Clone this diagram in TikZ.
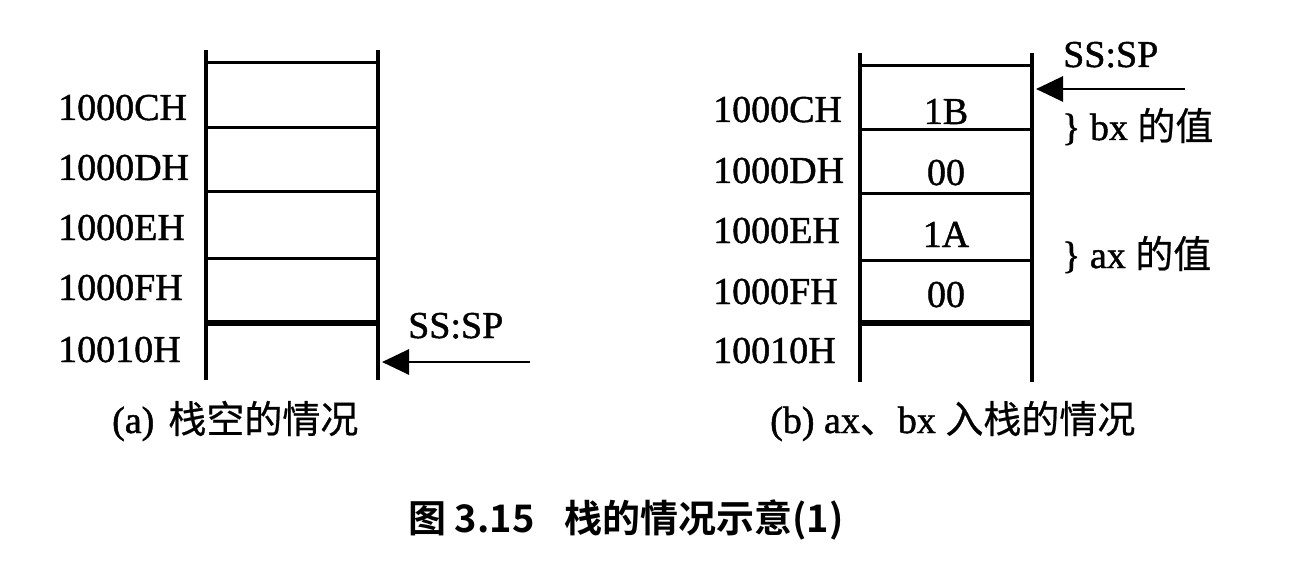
\documentclass[tikz,border=0pt]{standalone}
\usepackage{fontspec}
\setmainfont{Liberation Serif}[FakeBold=1.2]
\newfontfamily\cjk{Noto Sans CJK SC}[FakeBold=0.6]
\newfontfamily\cjkbold{Noto Sans CJK SC Bold}
\usetikzlibrary{arrows.meta}
\begin{document}
\begin{tikzpicture}[x=1pt,y=-1pt,
  txt/.style={inner sep=0pt,font=\fontsize{38}{38}\selectfont},
  addr/.style={txt,anchor=base west},
  val/.style={txt,anchor=base},
  note/.style={txt,anchor=base west},
  wall/.style={line width=3.6pt},
  rowline/.style={line width=3pt},
  topline/.style={line width=6.5pt},
  ptr/.style={line width=2.8pt,-{Triangle[length=27pt,width=25pt]}},
]
\useasboundingbox (0,0) rectangle (1303,564);

% ---------- (a) empty stack ----------
\coordinate (aTL) at (206,50);  \coordinate (aBL) at (206,380);
\coordinate (aTR) at (378,50);  \coordinate (aBR) at (378,380);
\foreach \y in {63,128,192,258}
  \draw[rowline] (206,\y) -- (378,\y);
\draw[topline] (206,323) -- (378,323);
\draw[wall] (aTL) -- (aBL);
\draw[wall] (aTR) -- (aBR);

\node[addr] (aC) at (58,120) {1000CH};
\node[addr] (aD) at (58,180) {1000DH};
\node[addr] (aE) at (58,240) {1000EH};
\node[addr] (aF) at (58,300) {1000FH};
\node[addr] (aG) at (58,362) {10010H};

\node[note] (aSP) at (408,338) {SS:SP};
\coordinate (aTail) at (530,362);
\coordinate (aTip)  at (382,362);
\draw[ptr] (aTail) -- (aTip);

\node[addr] (aCap) at (112,433) {(a)\hspace{14pt}{\cjk 栈空的情况}};

% ---------- (b) after pushing ax, bx ----------
\coordinate (bTL) at (860,53);  \coordinate (bBL) at (860,382);
\coordinate (bTR) at (1032,53); \coordinate (bBR) at (1032,382);
\foreach \y in {66,130,194,260}
  \draw[rowline] (860,\y) -- (1032,\y);
\draw[topline] (860,323) -- (1032,323);
\draw[wall] (bTL) -- (bBL);
\draw[wall] (bTR) -- (bBR);

\node[addr] (bC) at (713,122) {1000CH};
\node[addr] (bD) at (713,183) {1000DH};
\node[addr] (bE) at (713,243) {1000EH};
\node[addr] (bF) at (713,304) {1000FH};
\node[addr] (bG) at (713,363) {10010H};

\node[val] (v1) at (946,124) {1B};
\node[val] (v2) at (946,185) {00};
\node[val] (v3) at (946,247) {1A};
\node[val] (v4) at (946,307) {00};

\node[note] (bSP) at (1063,67) {SS:SP};
\coordinate (bTail) at (1185,89);
\coordinate (bTip)  at (1036,89);
\draw[ptr] (bTail) -- (bTip);

\node[note] (bx) at (1062,140) {\} bx {\cjk 的值}};
\node[note] (ax) at (1062,268) {\} ax {\cjk 的值}};

\node[addr] (bCap) at (770,433) {(b) ax{\cjk 、}bx {\cjk 入栈的情况}};

% ---------- figure title ----------
\node[addr] (title) at (408,532) {\cjkbold 图 3.15\hspace{30pt}栈的情况示意(1)};
\end{tikzpicture}
\end{document}
